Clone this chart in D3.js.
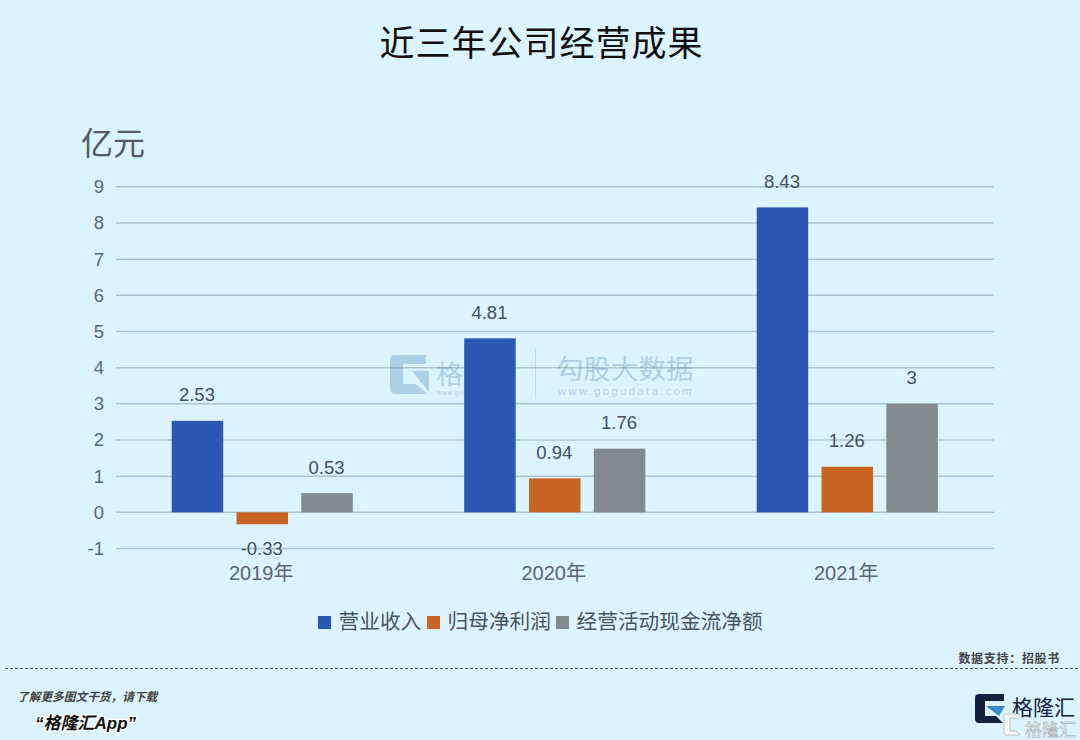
<!DOCTYPE html>
<html lang="zh">
<head>
<meta charset="utf-8">
<title>近三年公司经营成果</title>
<script src="https://cdn.jsdelivr.net/npm/d3@7"></script>
<style>
  html, body { margin: 0; padding: 0; background: #dcf4ff; }
  svg { display: block; }
  text { font-family: "Liberation Sans", "Noto Sans CJK SC", sans-serif; }
</style>
</head>
<body>
<script>
var years = ["2019年", "2020年", "2021年"];
var seriesNames = ["营业收入", "归母净利润", "经营活动现金流净额"];
var revenue = [2.53, 4.81, 8.43];
var netProfit = [-0.33, 0.94, 1.26];
var cashFlow = [0.53, 1.76, 3];
var colors = ["#2b57b5", "#c96423", "#7f8b8f"];
var yTicks = [-1, 0, 1, 2, 3, 4, 5, 6, 7, 8, 9];

var width = 1080, height = 740;
var svg = d3.select("body").append("svg").attr("width", width).attr("height", height);

svg.append("rect").attr("width", width).attr("height", height).attr("fill", "#dcf4ff");

// title
svg.append("text").attr("x", 541.5).attr("y", 56).attr("text-anchor", "middle")
  .attr("font-size", 35).attr("fill", "#111").style("letter-spacing", "1px")
  .text("近三年公司经营成果");

// unit
svg.append("text").attr("x", 81).attr("y", 155).attr("font-size", 32).attr("fill", "#555b62").text("亿元");

// scales
var y = d3.scaleLinear().domain([-1, 9]).range([548.5, 186.8]);
var x0 = d3.scaleBand().domain(years).range([115, 992.5]);
var seriesStep = 64.8, barW = 51.5;

// grid and y labels via axis
var yAxis = d3.axisLeft(y).tickValues(yTicks).tickSize(0).tickPadding(12).tickFormat(function(d) { return String(d); });
var gy = svg.append("g").attr("transform", "translate(116,0)").call(yAxis);
gy.select(".domain").remove();
gy.selectAll("text").attr("font-size", 18.5).attr("fill", "#5b6670")
  .style("font-family", '"Liberation Sans", sans-serif');

var grid = svg.append("g");
grid.selectAll("line").data(yTicks).enter().append("line")
  .attr("x1", 116).attr("x2", 993.5)
  .attr("y1", function(d) { return y(d); })
  .attr("y2", function(d) { return y(d); })
  .attr("stroke", "#aec2cd").attr("stroke-width", 1.5);

// bars
var allSeries = [revenue, netProfit, cashFlow];
allSeries.forEach(function(values, s) {
  var g = svg.append("g");
  function cx(i) {
    return x0(years[i]) + x0.bandwidth() / 2 + 1 + (s - 1) * seriesStep;
  }
  g.selectAll("rect").data(values).enter().append("rect")
    .attr("x", function(d, i) { return cx(i) - barW / 2; })
    .attr("y", function(d) { return Math.min(y(d), y(0)); })
    .attr("width", barW)
    .attr("height", function(d) { return Math.abs(y(d) - y(0)); })
    .attr("fill", colors[s]);
  g.selectAll("text").data(values).enter().append("text")
    .attr("x", function(d, i) { return cx(i) - 0.5; })
    .attr("y", function(d) { return d < 0 ? y(d) + 30.5 : y(d) - 19.5; })
    .attr("text-anchor", "middle").attr("font-size", 18.5).attr("fill", "#44505c")
    .text(function(d) { return d; });
});

// watermark, sits over the bars
var wm = svg.append("g").attr("fill", "#2b5fa5").attr("opacity", 0.25);
wm.append("path")
  .attr("d", "M394 355 H426 V364 H403 V384 H416 L427 394 H396 Q390 394 390 388 V361 Q390 355 394 355 Z");
wm.append("path").attr("d", "M412 371 H429 V392 Z");
wm.append("text").attr("x", 436).attr("y", 384).attr("font-size", 27).text("格隆汇");
wm.append("text").attr("x", 437).attr("y", 394.5).attr("font-size", 6.5).style("letter-spacing", "0.5px").text("www.gelonghui.com");
wm.append("line").attr("x1", 535.5).attr("x2", 535.5).attr("y1", 349).attr("y2", 399).attr("stroke", "#2b5fa5").attr("opacity", 0.7);
wm.append("text").attr("x", 556).attr("y", 379).attr("font-size", 27.5).text("勾股大数据");
wm.append("text").attr("x", 558).attr("y", 395).attr("font-size", 11).style("letter-spacing", "2.5px").text("www.gogudata.com");

// category labels
svg.append("g").selectAll("text").data(years).enter().append("text")
  .attr("x", function(d) { return x0(d) + x0.bandwidth() / 2; })
  .attr("y", 580).attr("text-anchor", "middle")
  .attr("font-size", 20).attr("fill", "#5b6670")
  .text(function(d) { return d; });

// legend
var legendX = [318, 427, 556];
var legend = svg.append("g").selectAll("g").data(seriesNames).enter().append("g")
  .attr("transform", function(d, i) { return "translate(" + legendX[i] + ",616)"; });
legend.append("rect").attr("width", 13).attr("height", 13)
  .attr("fill", function(d, i) { return colors[i]; });
legend.append("text").attr("x", 20.5).attr("y", 13).attr("font-size", 20.7).attr("fill", "#4a5560")
  .text(function(d) { return d; });

// footer
svg.append("line").attr("x1", 5).attr("x2", 1080).attr("y1", 668.5).attr("y2", 668.5)
  .attr("stroke", "#555").attr("stroke-dasharray", "3 2");
svg.append("text").attr("x", 1060).attr("y", 663).attr("text-anchor", "end")
  .attr("font-size", 12).attr("font-weight", "bold").attr("fill", "#444").style("letter-spacing", "0.7px")
  .text("数据支持：招股书");
svg.append("text").attr("x", 17).attr("y", 701).attr("font-size", 11.7).attr("font-weight", "bold")
  .attr("font-style", "italic").attr("fill", "#444").text("了解更多图文干货，请下载");
svg.append("text").attr("x", 35).attr("y", 729).attr("font-size", 17).attr("font-weight", "bold")
  .attr("font-style", "italic").attr("fill", "#111")
  .attr("stroke", "#fff").attr("stroke-width", 2.5).attr("paint-order", "stroke")
  .text("“格隆汇App”");

// logo bottom right
var logo = svg.append("g");
logo.append("path")
  .attr("d", "M979 694 H1004 V701 H985 V716 H996 L1003 723 H979 Q975 723 975 719 V698 Q975 694 979 694 Z")
  .attr("fill", "#14223f");
logo.append("path").attr("d", "M986 706 H1005 L999 716 Z").attr("fill", "#3a86c8");
logo.append("text").attr("x", 1012).attr("y", 715).attr("font-size", 21)
  .attr("fill", "#14223f").text("格隆汇");
logo.append("path")
  .attr("d", "M1006 714 H1019 V718 H1010 V731 H1016 L1020 735 H1006 Q1004 735 1004 733 V716 Q1004 714 1006 714 Z")
  .attr("fill", "#f4f8fa").attr("stroke", "#8a9299").attr("stroke-width", 0.5);
logo.append("text").attr("x", 1025).attr("y", 736).attr("font-size", 17).attr("fill", "#f4f8fa")
  .attr("stroke", "#8a9299").attr("stroke-width", 0.4).text("格隆汇");
</script>
</body>
</html>
